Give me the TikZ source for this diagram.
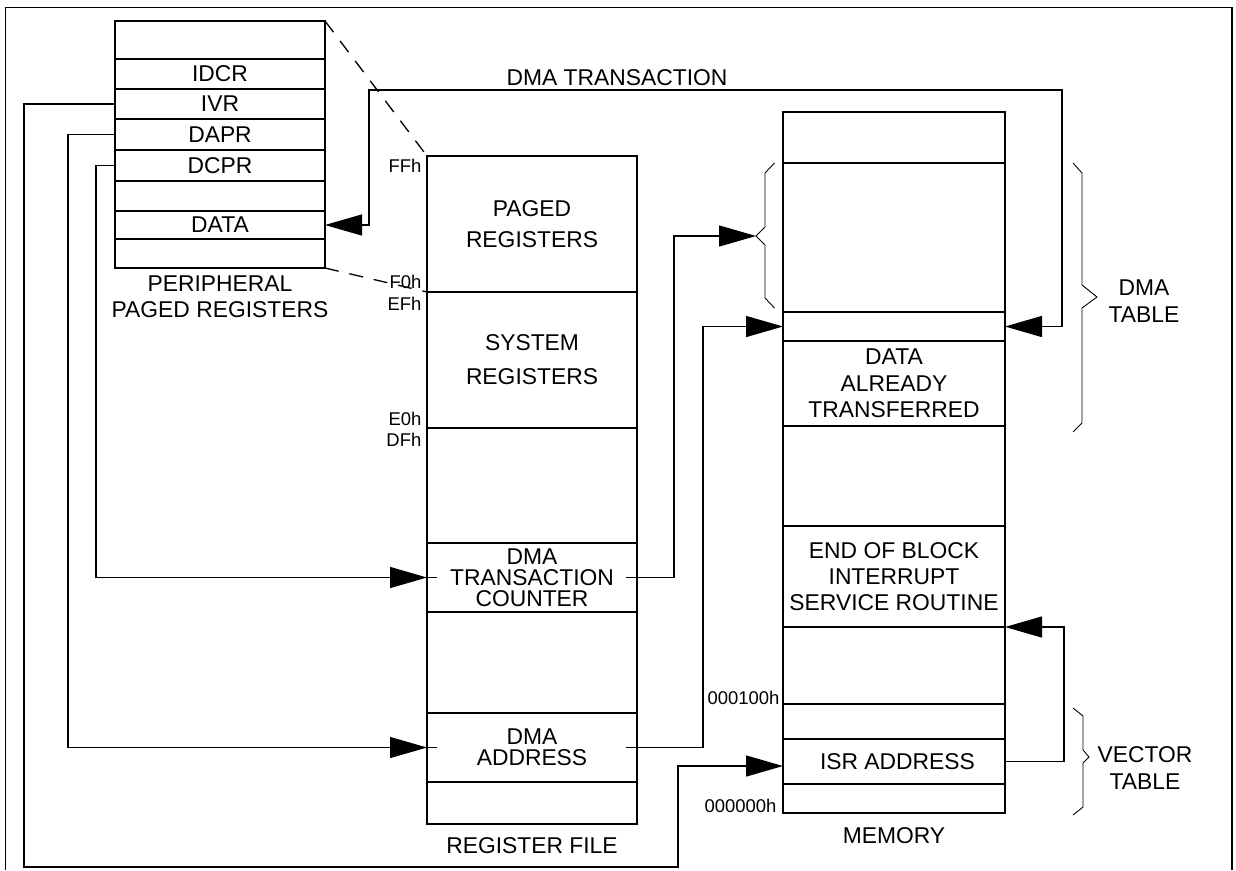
\documentclass[tikz,border=0pt]{standalone}
\usepackage{fontspec}
\setmainfont{Liberation Sans}
\usetikzlibrary{positioning,arrows.meta}

\begin{document}
\begin{tikzpicture}[x=0.2mm, y=-0.2mm, line width=0.75pt,
    >={Triangle[length=7.4mm,width=4.2mm]},
    cell/.style={draw, rectangle, inner sep=0pt, outer sep=0pt, align=center,
      font=\fontsize{13}{15}\selectfont},
    pcell/.style={cell, minimum width=42mm},
    rcell/.style={cell, minimum width=42mm},
    mcell/.style={cell, minimum width=44.4mm},
    lbl/.style={inner sep=0pt, align=center, font=\fontsize{13}{15}\selectfont},
    hexlbl/.style={inner sep=0pt, anchor=east, font=\fontsize{10.5}{12}\selectfont},
    brc/.style={line width=0.5pt}]
    \useasboundingbox (0,0) rectangle (1236,870);
    \draw[line width=1pt] (5.5,870) -- (5.5,7.5) -- (1232,7.5) -- (1232,870);

    \node[pcell, minimum height=7.6mm, anchor=north west] (pr0) at (115,21) {};
    \node[pcell, minimum height=6mm, below=0pt of pr0] (idcr) {IDCR};
    \node[pcell, minimum height=6mm, below=0pt of idcr] (ivr) {IVR};
    \node[pcell, minimum height=6.2mm, below=0pt of ivr] (dapr) {DAPR};
    \node[pcell, minimum height=6.2mm, below=0pt of dapr] (dcpr) {DCPR};
    \node[pcell, minimum height=6mm, below=0pt of dcpr] (pr5) {};
    \node[pcell, minimum height=5.6mm, below=0pt of pr5] (data) {DATA};
    \node[pcell, minimum height=5.8mm, below=0pt of data] (pr7) {};
    \node[lbl, below=1.4mm of pr7] (perlbl) {PERIPHERAL\\PAGED REGISTERS};

    \node[rcell, minimum height=27.2mm, anchor=north west] (paged) at (427,156) {PAGED\\[3pt]REGISTERS};
    \node[rcell, minimum height=27.2mm, below=0pt of paged] (system) {SYSTEM\\[4.3pt]REGISTERS};
    \node[rcell, minimum height=23mm, below=0pt of system] (rf2) {};
    \node[rcell, minimum height=13.8mm, below=0pt of rf2] (counter) {DMA\\[-3.2pt]TRANSACTION\\[-3.2pt]COUNTER};
    \node[rcell, minimum height=20.2mm, below=0pt of counter] (rf4) {};
    \node[rcell, minimum height=13.8mm, below=0pt of rf4] (dmaaddr) {DMA\\[-3pt]ADDRESS};
    \node[rcell, minimum height=8.4mm, below=0pt of dmaaddr] (rf6) {};
    \node[lbl, below=2.6mm of rf6] (rflbl) {REGISTER FILE};

    \node[hexlbl] (ffh) at (422,166) {FFh};
    \node[hexlbl] (f0h) at (422,282) {F0h};
    \node[hexlbl] (efh) at (422,304) {EFh};
    \node[hexlbl] (e0h) at (422,419) {E0h};
    \node[hexlbl] (dfh) at (422,440) {DFh};

    \node[mcell, minimum height=10.2mm, anchor=north west] (m0) at (783,112) {};
    \node[mcell, minimum height=29.8mm, below=0pt of m0] (m1) {};
    \node[mcell, minimum height=5.8mm, below=0pt of m1] (m2) {};
    \node[mcell, minimum height=17mm, below=0pt of m2] (m3) {DATA\\ALREADY\\TRANSFERRED};
    \node[mcell, minimum height=20mm, below=0pt of m3] (m4) {};
    \node[mcell, minimum height=20.2mm, below=0pt of m4] (m5) {END OF BLOCK\\INTERRUPT\\SERVICE ROUTINE};
    \node[mcell, minimum height=15.4mm, below=0pt of m5] (m6) {};
    \node[mcell, minimum height=7mm, below=0pt of m6] (m7) {};
    \node[mcell, minimum height=9mm, below=0pt of m7] (isr) {\hspace*{1.4mm}ISR ADDRESS};
    \node[mcell, minimum height=5.8mm, below=0pt of isr] (m9) {};
    \node[lbl, below=2.8mm of m9] (memlbl) {MEMORY};

    \node[hexlbl] (h100) at (780,698) {000100h};
    \node[hexlbl] (h000) at (777,806) {000000h};

    \node[lbl] (dmatr) at (617,78) {DMA TRANSACTION};
    \node[lbl] (dmatbl) at (1144,301) {DMA\\TABLE};
    \node[lbl] (vectbl) at (1145,768) {VECTOR\\TABLE};

    \draw[dashed, dash pattern=on 2.8mm off 2.2mm] (pr0.north east) -- (paged.north west);
    \draw[dashed, dash pattern=on 2.8mm off 2.2mm] (pr7.south east) -- (paged.south west);

    \coordinate (pgtip) at (756,236);
    \draw[brc] (774.5,163) -- (765,173) -- (765,227) -- (pgtip) -- (765,245) -- (765,298) -- (774.5,308);
    \draw[brc] (1073,163) -- (1082,173) -- (1082,285) -- (1097,297) -- (1082,308) -- (1082,423) -- (1073,432);
    \draw[brc] (1073,708) -- (1083,716) -- (1083,750) -- (1089,757) -- (1083,763) -- (1083,807) -- (1073,815);

    \draw[<->] (data.east) -- ++(44,0) |- (1062,90) |- (m2.east);
    \draw[->] (dcpr.west) -- ++(-19,0) |- (counter.west);
    \draw (counter.west) -- ++(10,0);
    \draw[->] ([xshift=-2.2mm]counter.east) -- ++(48,0) |- (pgtip);
    \draw[->] (dapr.west) -- ++(-47,0) |- (dmaaddr.west);
    \draw (dmaaddr.west) -- ++(10,0);
    \draw[->] ([xshift=-2.2mm]dmaaddr.east) -- ++(77,0) |- (m2.west);
    \draw[->] (ivr.west) -- ++(-91,0) |- (678,867) |- ([yshift=-0.9mm]isr.west);
    \draw[->] (isr.east) -- ++(59,0) |- (m5.south east);
\end{tikzpicture}
\end{document}
